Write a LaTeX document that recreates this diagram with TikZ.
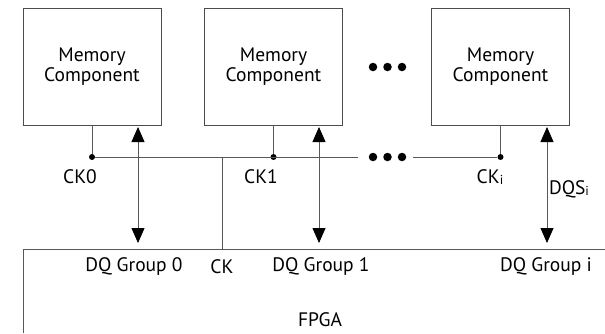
\documentclass[tikz,border=0pt]{standalone}
\usepackage{fontspec}
\setmainfont{PT Sans}
\usetikzlibrary{arrows.meta,positioning}

\begin{document}
\begin{tikzpicture}[x=1pt,y=-1pt,
  every text node part/.style={align=center},
  every node/.style={font=\fontsize{19.5}{23}\selectfont},
  membox/.style={draw=black!70, line width=0.9pt, minimum width=138pt, minimum height=117pt, inner sep=0pt},
  wire/.style={draw=black!65, line width=0.8pt},
  bidir/.style={wire, {Triangle[width=13pt,length=15pt,color=black]}-{Triangle[width=13pt,length=15pt,color=black]}},
  tap/.style={circle, fill=black, inner sep=0pt, minimum size=6pt},
  bigdot/.style={circle, fill=black, inner sep=0pt, minimum size=8.5pt}]

\useasboundingbox (0,0) rectangle (605,333);

    %% memory components
    \node[membox] (mem0) at (92,66.5) {Memory\\[-3pt]Component};
    \node[membox] (mem1) at (273.5,66.5) {Memory\\[-3pt]Component};
    \node[membox] (memi) at (500.5,66.5) {Memory\\[-3pt]Component};

    % dots between the boxes
    \node[bigdot] (dota) at (373,67) {};
    \node[bigdot] (dotb) at (387.5,67) {};
    \node[bigdot] (dotc) at (402,67) {};

    %% FPGA outline
    \coordinate (fpgabl) at (23,333);
    \coordinate (fpgatl) at (23,249);
    \coordinate (fpgatr) at (605,249);
    \draw[wire] (fpgabl) -- (fpgatl) -- (fpgatr);

    %% clock bus
    \node[tap] (ck0) at (92,157) {};
    \node[tap] (ck1) at (273.5,157) {};
    \node[tap] (cki) at (500.5,157) {};
    \coordinate (ckroot) at (222,249);
    \coordinate (ckjoin) at (222,157);
    \coordinate (busend) at (358,157);
    \coordinate (busstart) at (413,157);
    \node[bigdot] (busa) at (373,157) {};
    \node[bigdot] (busb) at (387.5,157) {};
    \node[bigdot] (busc) at (402,157) {};

    \draw[wire] (ck0) -- (busend);
    \draw[wire] (busstart) -- (cki);
    \draw[wire] (ckroot) -- (ckjoin);
    \draw[wire] (mem0.south) -- (ck0);
    \draw[wire] (mem1.south) -- (ck1);
    \draw[wire] (memi.south) -- (cki);

    %% DQ / DQS arrows
    \coordinate (dq0top) at (138,127);
    \coordinate (dq0bot) at (138,243);
    \coordinate (dq1top) at (319,127);
    \coordinate (dq1bot) at (319,243);
    \coordinate (dqitop) at (547,127);
    \coordinate (dqibot) at (547,243);
    \draw[bidir] (dq0top) -- (dq0bot);
    \draw[bidir] (dq1top) -- (dq1bot);
    \draw[bidir] (dqitop) -- (dqibot);

    %% labels
    \node (ck0label) at (80,177) {CK0};
    \node (ck1label) at (261,177) {CK1};
    \node (ckilabel) at (490,177) {CK\raisebox{-1pt}{\fontsize{13}{14}\selectfont i}};
    \node (dqslabel) at (569,189) {DQS\raisebox{-1pt}{\fontsize{13}{14}\selectfont i}};
    \node (dq0label) at (134,267) {DQ Group 0};
    \node (cklabel) at (222,267) {CK};
    \node (dq1label) at (321,267) {DQ Group 1};
    \node (dqilabel) at (546,267) {DQ Group i};
    \node (fpgalabel) at (320,320) {FPGA};
\end{tikzpicture}
\end{document}
